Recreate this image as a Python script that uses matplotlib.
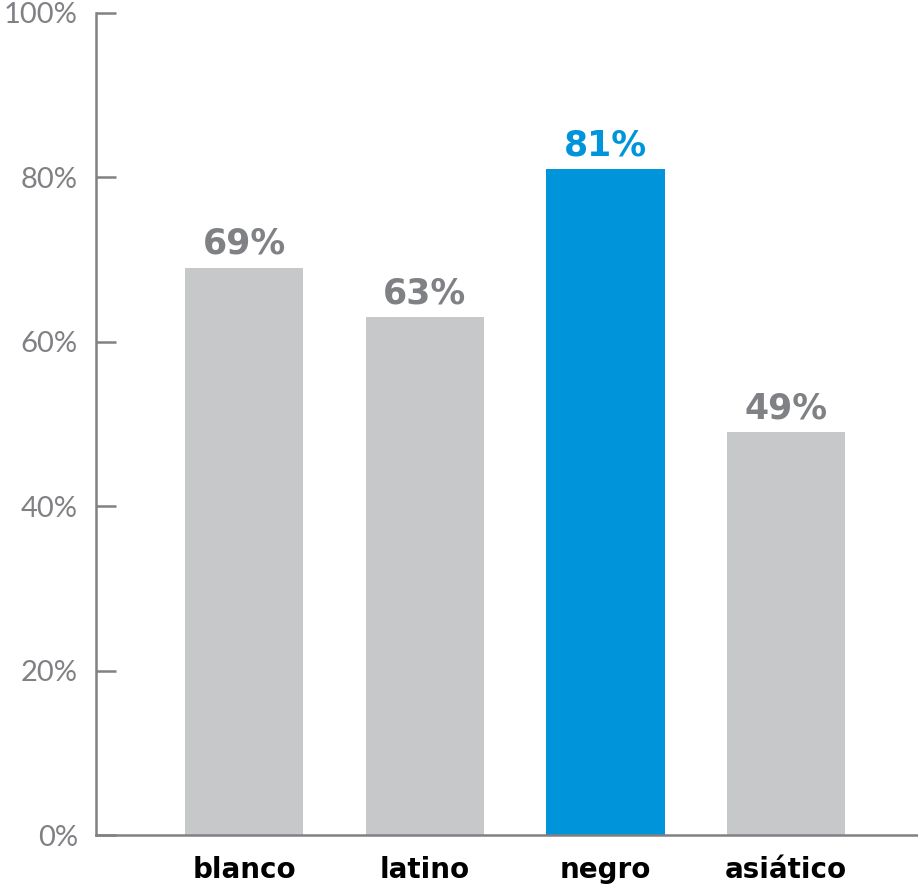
import matplotlib.pyplot as plt
import matplotlib.ticker as mticker

categories = ["blanco", "latino", "negro", "asiático"]
values = [69, 63, 81, 49]
bar_colors = ["#C7C8CA", "#C7C8CA", "#0095DA", "#C7C8CA"]
label_colors = ["#808184", "#808184", "#0095DA", "#808184"]
y_ticks = [0, 20, 40, 60, 80, 100]

fig = plt.figure(figsize=(9.18, 8.86), dpi=100)
ax = fig.add_axes([96/918, 51/886, 1 - 96/918, (886 - 13 - 51)/886])

x = list(range(len(categories)))
ax.bar(x, values, width=0.655, color=bar_colors, zorder=2)

for xi, v, c in zip(x, values, label_colors):
    ax.annotate("%d%%" % v, (xi, v), xytext=(0, 5), textcoords="offset points",
                ha="center", va="bottom", fontsize=25, fontweight="bold",
                color=c, family="DejaVu Sans")

ax.set_xlim(-0.82, 3.73)
ax.set_ylim(0, 100)
ax.set_yticks(y_ticks)
ax.yaxis.set_major_formatter(mticker.FuncFormatter(lambda v, p: "%d%%" % v))
ax.tick_params(axis="y", direction="in", length=14.5, width=1.8, color="#808184",
               labelsize=21, labelcolor="#808184", pad=13)
for lab in ax.get_yticklabels():
    lab.set_fontweight("normal")
    lab.set_family(["Lato", "DejaVu Sans"])

ax.set_xticks(x)
ax.set_xticklabels(categories, fontsize=20, fontweight="bold", color="black")
ax.tick_params(axis="x", length=0, pad=15)

for s in ["top", "right"]:
    ax.spines[s].set_visible(False)
ax.spines["left"].set_color("#808184")
ax.spines["left"].set_linewidth(1.8)
ax.spines["bottom"].set_color("#808184")
ax.spines["bottom"].set_linewidth(1.8)

fig.savefig("out.png", dpi=100)
